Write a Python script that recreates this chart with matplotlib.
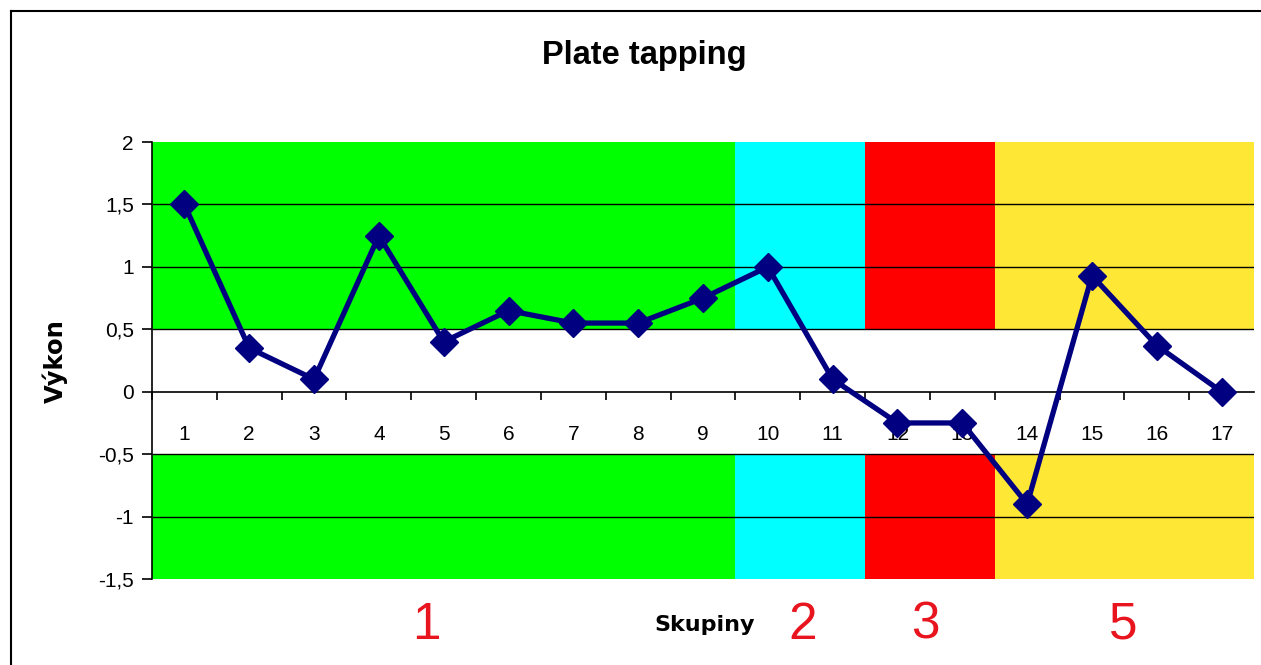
import matplotlib.pyplot as plt
from matplotlib.lines import Line2D

# data
skupiny = list(range(1, 18))
vykon = [1.5, 0.35, 0.1, 1.25, 0.4, 0.65, 0.55, 0.55, 0.75, 1.0, 0.1, -0.25, -0.25, -0.9, 0.93, 0.37, 0.0]

# colored groups: first category, last category, color, label
group_first = [1, 10, 12, 14]
group_last = [9, 11, 13, 17]
group_colors = ['#00FF00', '#00FFFF', '#FF0000', '#FFE835']
group_labels = ['1', '2', '3', '5']

y_ticks = [-1.5, -1, -0.5, 0, 0.5, 1, 1.5, 2]
y_ticklabels = ['-1,5', '-1', '-0,5', '0', '0,5', '1', '1,5', '2']

plt.rcParams['font.family'] = ['Liberation Sans', 'DejaVu Sans']

fig = plt.figure(figsize=(12.61, 6.65), dpi=100)
ax = fig.add_axes([0.1205, 0.1293, 0.874, 0.6571])

# colored bands (upper part 0.5..2 and lower part -1.5..-0.5)
for a, b, c in zip(group_first, group_last, group_colors):
    ax.bar(a - 0.5, 1.5, width=b - a + 1, bottom=0.5, align='edge', color=c, zorder=0)
    ax.bar(a - 0.5, 1.0, width=b - a + 1, bottom=-1.5, align='edge', color=c, zorder=0)

for yv in [-1, -0.5, 0.5, 1, 1.5]:
    ax.axhline(yv, color='black', lw=1, zorder=1)

ax.plot(skupiny, vykon, color='#000080', lw=3.8, marker='D', markersize=14.5, zorder=3, clip_on=False)

ax.set_xlim(0.5, 17.5)
ax.set_ylim(-1.5, 2)

for s in ['top', 'right']:
    ax.spines[s].set_visible(False)
ax.spines['bottom'].set_position(('data', 0))
ax.spines['bottom'].set_linewidth(1.2)
ax.spines['left'].set_linewidth(1.2)

ax.set_xticks([x + 0.5 for x in range(0, 17)])
ax.set_xticklabels([])
ax.set_xticks(skupiny, minor=True)
ax.set_xticklabels([str(x) for x in skupiny], minor=True, fontsize=15)
ax.tick_params(axis='x', which='major', direction='out', length=6, width=1.2)
ax.tick_params(axis='x', which='minor', length=0, pad=24)

ax.set_yticks(y_ticks)
ax.set_yticklabels(y_ticklabels, fontsize=15)
ax.tick_params(axis='y', direction='out', length=7, width=1.2, pad=6)

fig.text(0.511, 0.917, 'Plate tapping', fontsize=23.5, fontweight='bold', ha='center', va='center')
bold = dict(family='DejaVu Sans', fontweight='bold', ha='center', va='center')
fig.text(0.559, 0.06, 'Skupiny', fontsize=16, **bold)
fig.text(0.044, 0.457, 'Výkon', fontsize=17.5, rotation=90, **bold)

label_x = [4.74, 10.53, 12.43, 15.48]
for t, xv in zip(group_labels, label_x):
    ax.text(xv, -1.87, t, color='#E8141E', fontsize=37, ha='center', va='center')

# outer chart border (left and top visible)
fig.add_artist(Line2D([10.5 / 1261, 10.5 / 1261], [0, 1 - 11 / 665], color='black', lw=1.5))
fig.add_artist(Line2D([10.5 / 1261, 1], [1 - 11 / 665, 1 - 11 / 665], color='black', lw=1.5))

fig.savefig('out.png', dpi=100)
